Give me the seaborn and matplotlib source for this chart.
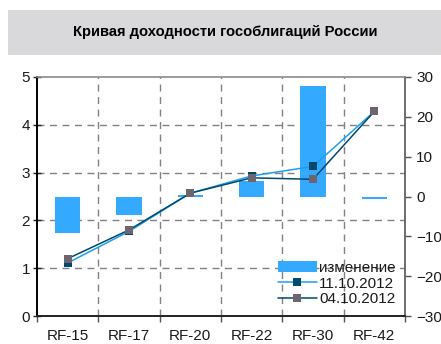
import matplotlib
matplotlib.use("Agg")
import matplotlib.pyplot as plt
from matplotlib.patches import Rectangle, Patch
from matplotlib.lines import Line2D
from matplotlib.ticker import FixedLocator
import pandas as pd
import seaborn as sns

# Russian OFZ yield curve data
categories = ["RF-15", "RF-17", "RF-20", "RF-22", "RF-30", "RF-42"]
yield_11_10 = [1.11, 1.77, 2.57, 2.93, 3.13, 4.28]
yield_04_10 = [1.20, 1.80, 2.57, 2.89, 2.86, 4.28]
change_bp = [-9.2, -4.7, 0.4, 4.0, 27.7, -0.7]
left_ticks = [0, 1, 2, 3, 4, 5]
right_ticks = [-30, -20, -10, 0, 10, 20, 30]

title = "Кривая доходности гособлигаций России"
legend_labels = ["изменение", "11.10.2012", "04.10.2012"]

BAR = "#33aaff"
LIGHT = "#1e9ef2"
NAVY = "#00496d"
GREY_MK = "#6c6570"
GRID = "#858086"
INK = "#1a1a1a"
FS = 11

sns.set_style("white")
plt.rcParams["font.family"] = ["Liberation Sans", "DejaVu Sans"]
plt.rcParams["text.color"] = INK
plt.rcParams["xtick.color"] = INK
plt.rcParams["ytick.color"] = INK

fig = plt.figure(figsize=(4.41, 3.44), dpi=100)

# title banner
fig.patches.append(Rectangle((8 / 441, 1 - 55 / 344), 1 - 8 / 441, 45 / 344,
                             transform=fig.transFigure, facecolor="#d9d8da",
                             edgecolor="none", zorder=0))
fig.text(225 / 441, 1 - 32 / 344, title, ha="center", va="center",
         fontsize=10.6, weight="bold", color="black")

ax = fig.add_axes([37 / 441, 1 - 316 / 344, 368 / 441, 239 / 344])
ax2 = ax.twinx()
ax.set_zorder(2)
ax.patch.set_visible(False)
ax2.set_zorder(1)

ax.set_ylim(0, 5)
ax2.set_ylim(-30, 30)

# dashed grid, drawn on the lower axes so the bars cover it
def left_to_right(v):
    lo, hi = ax.get_ylim()
    rlo, rhi = ax2.get_ylim()
    return rlo + (v - lo) / (hi - lo) * (rhi - rlo)

for v in left_ticks[1:-1]:
    ax2.axhline(left_to_right(v), color=GRID, lw=1.0, ls=(0, (5, 4)), zorder=0)
for i in range(len(categories) - 1):
    ax2.axvline(i + 0.5, color=GRID, lw=1.0, ls=(0, (5, 4)), zorder=0)

# change in bp (right axis)
bars_df = pd.DataFrame({"bond": categories, "change": change_bp})
sns.barplot(data=bars_df, x="bond", y="change", order=categories, color=BAR,
            saturation=1, width=0.41, errorbar=None, linewidth=0, ax=ax2)

# yields (left axis)
lines_df = pd.DataFrame({"bond": categories, "y1110": yield_11_10, "y0410": yield_04_10})
sns.pointplot(data=lines_df, x="bond", y="y1110", order=categories, color=LIGHT,
              markers="s", linestyles="-", errorbar=None, linewidth=1.1,
              markersize=6, markerfacecolor=NAVY, markeredgecolor=NAVY,
              markeredgewidth=0, ax=ax)
sns.pointplot(data=lines_df, x="bond", y="y0410", order=categories, color=NAVY,
              markers="s", linestyles="-", errorbar=None, linewidth=1.1,
              markersize=6, markerfacecolor=GREY_MK, markeredgecolor=GREY_MK,
              markeredgewidth=0, ax=ax)

ax.set_xlim(-0.5, len(categories) - 0.5)
ax.set_ylim(0, 5)
ax2.set_ylim(-30, 30)
ax.set_yticks(left_ticks)
ax2.set_yticks(right_ticks)
ax.set_xticks(range(len(categories)))
ax.set_xticklabels(categories)
ax.xaxis.set_minor_locator(FixedLocator([i - 0.5 for i in range(len(categories) + 1)]))
for a in (ax, ax2):
    a.set_xlabel("")
    a.set_ylabel("")
    a.grid(False)

# spines
ax.spines["left"].set_color("black")
ax.spines["left"].set_linewidth(1.4)
ax.spines["bottom"].set_color("#222222")
ax.spines["bottom"].set_linewidth(1.4)
ax.spines["top"].set_color("#8a8a8a")
ax.spines["top"].set_linewidth(1.2)
ax.spines["right"].set_visible(False)
for s in ("left", "top", "bottom"):
    ax2.spines[s].set_visible(False)
ax2.spines["right"].set_color("#555555")
ax2.spines["right"].set_linewidth(1.2)

ax.tick_params(axis="y", left=True, direction="inout", length=6, width=1,
               color="#222222", labelsize=FS, pad=2)
ax.tick_params(axis="x", which="major", bottom=True, length=0, labelsize=FS, pad=9)
ax.tick_params(axis="x", which="minor", bottom=True, direction="out", length=4,
               width=1, color="#555555")
ax2.tick_params(axis="y", right=True, left=False, direction="out", length=4,
                width=1, color="#555555", labelsize=FS, pad=4)
ax2.tick_params(axis="x", bottom=False, labelbottom=False)

handles = [
    Patch(facecolor=BAR, edgecolor="none"),
    Line2D([], [], color=LIGHT, lw=1.1, marker="s", ms=6, mfc=NAVY, mec=NAVY, mew=0),
    Line2D([], [], color=NAVY, lw=1.1, marker="s", ms=6, mfc=GREY_MK, mec=GREY_MK, mew=0),
]
ax.legend(handles, legend_labels, loc="lower right", bbox_to_anchor=(0.975, 0.04),
          frameon=False, fontsize=FS, handlelength=2.55, handletextpad=0.15,
          labelspacing=0.12, borderpad=0, borderaxespad=0)

fig.savefig("out.png", dpi=100)
